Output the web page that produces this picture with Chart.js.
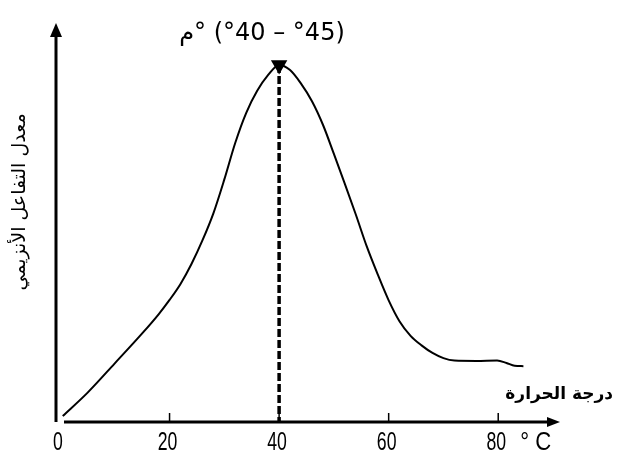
<!DOCTYPE html>
<html>
<head>
<meta charset="utf-8">
<script src="https://cdn.jsdelivr.net/npm/chart.js@4/dist/chart.umd.min.js"></script>
<style>
    html, body { margin: 0; padding: 0; background: #fff; }
    #wrap { width: 620px; height: 464px; }
</style>
</head>
<body>
<div id="wrap"><canvas id="Chart1"></canvas></div>
<script>
// temperature (°C) and enzyme reaction rate (arbitrary units)
const temps = [0.5, 5, 10, 15, 18, 20, 22, 24, 26, 28, 30, 32, 34, 36, 38, 40, 42, 44, 46, 48, 50, 52, 54, 56, 58, 60, 62, 64, 66, 68, 70, 72, 76, 79.8, 81.5, 83, 84.6];
const rates = [1.5, 7.3, 14.7, 22.2, 27, 30.6, 34.6, 39.6, 45.5, 52.3, 60.8, 70, 77.5, 83, 87, 89.5, 88.2, 84.8, 80.4, 74.5, 67.2, 59.7, 52, 44, 37, 30.5, 25.2, 21.6, 19.2, 17.3, 16, 15.4, 15.3, 15.4, 14.8, 14.1, 14];

const optimumTemp = 40;
const optimumRate = 89.5;

const xTicks = [0, 20, 40, 60, 80];
const xUnit = "° C";
const xTitle = "درجة الحرارة";
const yTitle = "معدل التفاعل الأنزيمي";
const peakLabel = "م° (°40 – °45)";

const tickFamily = "'Liberation Sans', 'DejaVu Sans', sans-serif";

// axes with arrows, small tick marks, tick labels and the free texts
const axesPlugin = {
    id: "axes",
    afterDatasetsDraw(chart) {
        const { ctx, scales: { x, y } } = chart;
        const x0 = x.getPixelForValue(0);
        const y0 = y.getPixelForValue(0);
        const xEnd = x.getPixelForValue(90) + 7;
        const yEnd = y.top;

        ctx.save();
        ctx.strokeStyle = "#000";
        ctx.fillStyle = "#000";
        ctx.lineWidth = 3;

        // y axis
        ctx.beginPath();
        ctx.moveTo(x0 - 4, y0);
        ctx.lineTo(x0 - 4, yEnd + 8);
        ctx.stroke();
        ctx.beginPath();
        ctx.moveTo(x0 - 4, yEnd);
        ctx.lineTo(x0 - 10, yEnd + 14);
        ctx.lineTo(x0 + 2, yEnd + 14);
        ctx.closePath();
        ctx.fill();

        // x axis
        ctx.beginPath();
        ctx.moveTo(x0 + 4, y0);
        ctx.lineTo(xEnd - 8, y0);
        ctx.stroke();
        ctx.beginPath();
        ctx.moveTo(xEnd, y0);
        ctx.lineTo(xEnd - 13, y0 - 5);
        ctx.lineTo(xEnd - 13, y0 + 5);
        ctx.closePath();
        ctx.fill();

        // tick marks above the axis
        ctx.lineWidth = 1.5;
        xTicks.slice(1).forEach(v => {
            const px = x.getPixelForValue(v);
            ctx.beginPath();
            ctx.moveTo(px, y0);
            ctx.lineTo(px, y0 - 9);
            ctx.stroke();
        });

        // narrow tick labels
        ctx.font = "26px " + tickFamily;
        ctx.textBaseline = "middle";
        ctx.textAlign = "center";
        xTicks.forEach(v => {
            const px = x.getPixelForValue(v);
            ctx.save();
            ctx.translate(px - 2, y0 + 21);
            ctx.scale(0.68, 1);
            ctx.fillText(String(v), 0, 0);
            ctx.restore();
        });
        ctx.save();
        ctx.translate(x.getPixelForValue(80) + 22, y0 + 21);
        ctx.scale(0.85, 1);
        ctx.textAlign = "left";
        ctx.fillText(xUnit, 0, 0);
        ctx.restore();

        // x title
        ctx.font = "bold 17px 'DejaVu Sans', sans-serif";
        ctx.textAlign = "right";
        ctx.fillText(xTitle, 613, y0 - 27);

        // y title
        ctx.save();
        ctx.translate(20, 202);
        ctx.rotate(-Math.PI / 2);
        ctx.textAlign = "center";
        ctx.font = "19px 'DejaVu Sans', sans-serif";
        ctx.fillText(yTitle, 0, 0);
        ctx.restore();

        // optimum label, kept in left-to-right order as printed
        ctx.font = "24px 'DejaVu Sans', sans-serif";
        ctx.textAlign = "center";
        ctx.fillText("\u202D" + peakLabel + "\u202C", 262, 34);

        ctx.restore();
    }
};

new Chart(document.getElementById("Chart1").getContext("2d"), {
    type: "line",
    data: {
        datasets: [{
            data: temps.map((t, i) => ({ x: t, y: rates[i] })),
            borderColor: "#000000",
            borderWidth: 2,
            cubicInterpolationMode: "monotone",
            pointRadius: 0,
            fill: false,
        }, {
            // dashed drop line at the optimum
            data: [{ x: optimumTemp, y: optimumRate }, { x: optimumTemp, y: 0 }],
            borderColor: "#000000",
            borderWidth: 3.5,
            borderDash: [8, 3],
            pointRadius: [6, 0],
            pointStyle: "triangle",
            rotation: 180,
            pointBackgroundColor: "#000000",
            pointBorderColor: "#000000",
            fill: false,
        }]
    },
    options: {
        responsive: true,
        maintainAspectRatio: false,
        animation: false,
        events: [],
        layout: {
            padding: { left: 60, right: 67, top: 23, bottom: 0 }
        },
        plugins: {
            legend: { display: false },
            tooltip: { enabled: false },
        },
        scales: {
            x: {
                type: "linear",
                min: 0,
                max: 90,
                grid: { display: false, drawTicks: false },
                border: { display: false },
                afterBuildTicks: (scale) => {
                    scale.ticks = xTicks.map(v => ({ value: v }));
                },
                afterFit: (scale) => { scale.height = 42; },
                ticks: { display: false },
            },
            y: {
                display: false,
                min: 0,
                max: 100,
            }
        }
    },
    plugins: [axesPlugin]
});
</script>
</body>
</html>
